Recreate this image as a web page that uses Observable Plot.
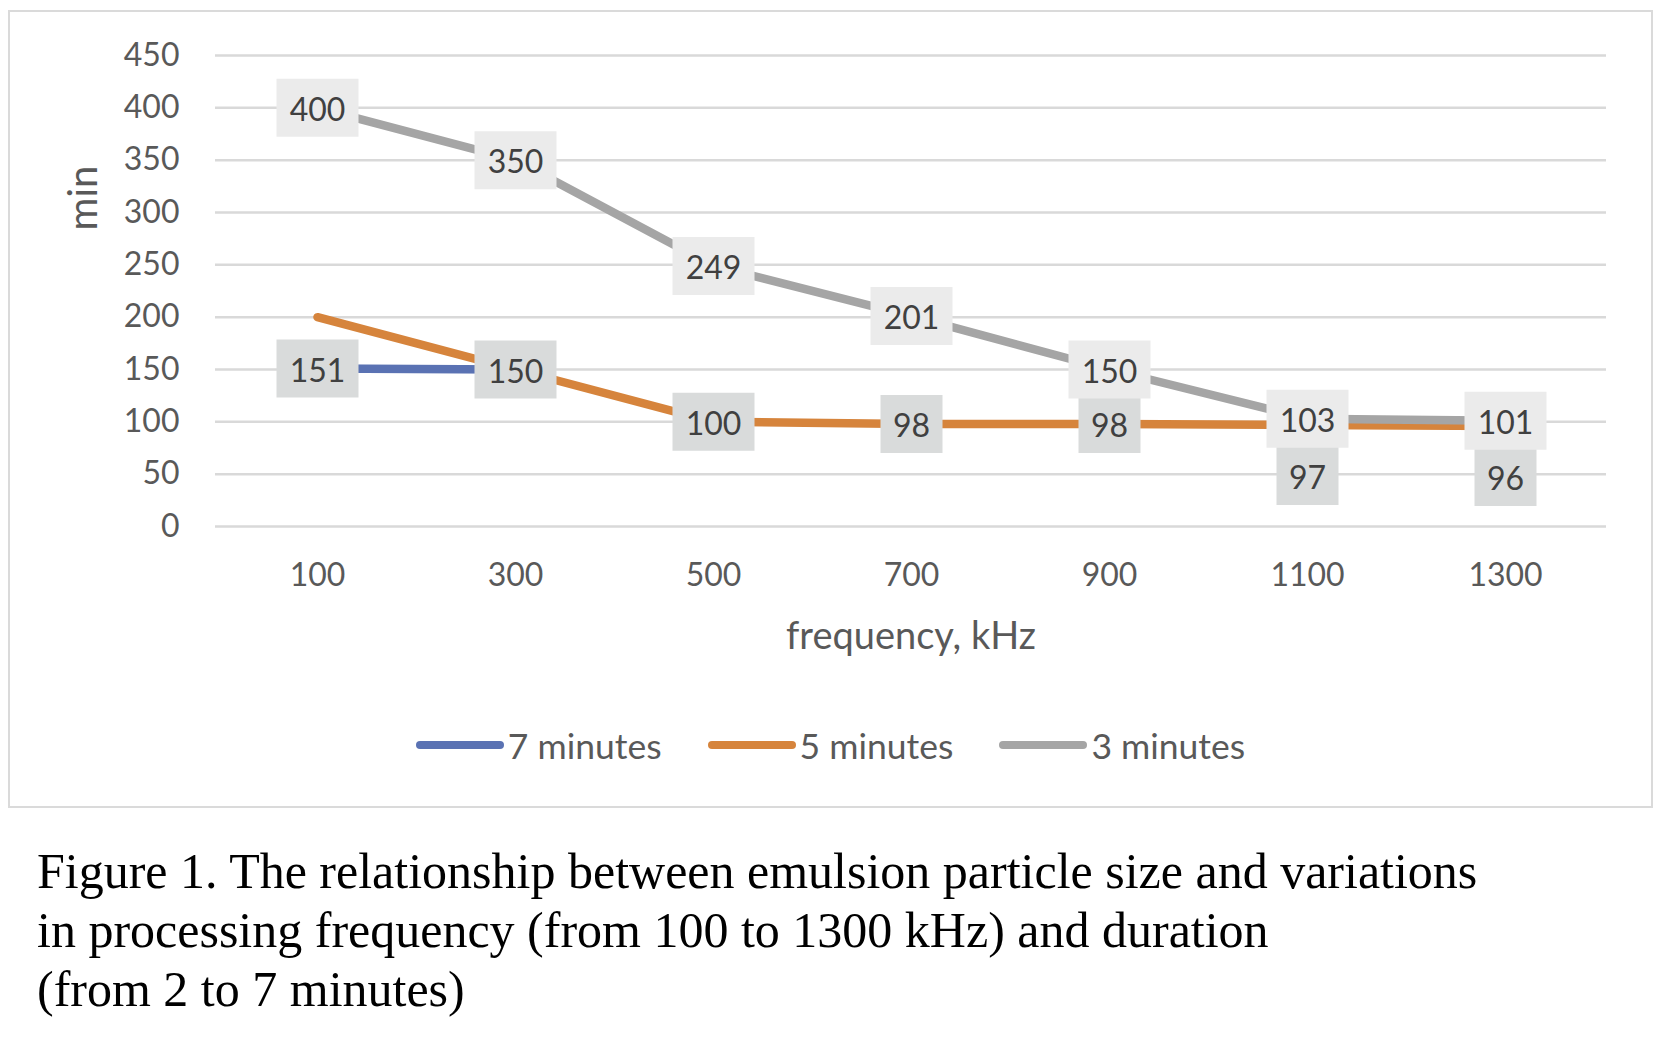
<!DOCTYPE html>
<html><head><meta charset="utf-8">
<script src="https://cdn.jsdelivr.net/npm/d3@7"></script>
<script src="https://cdn.jsdelivr.net/npm/@observablehq/plot@0.6"></script>
<style>
html,body{margin:0;padding:0;background:#fff;overflow:hidden;}
body{width:1663px;height:1038px;position:relative;font-family:Lato,sans-serif;}
#frame{position:absolute;left:8px;top:10px;width:1645px;height:798px;border:2.5px solid #dadada;box-sizing:border-box;}
#plot{position:absolute;left:0;top:0;}
#legend{position:absolute;left:8px;width:1645px;top:725px;height:40px;display:flex;justify-content:center;align-items:center;font-size:35.5px;color:#595959;}
.item{display:flex;align-items:center;margin:0 23px;}
.sw{width:88px;height:8.5px;border-radius:4.5px;margin-right:4px;}
#caption{position:absolute;left:37px;top:842px;font-family:"Liberation Serif","Times New Roman",serif;font-size:50px;line-height:59px;color:#000;white-space:nowrap;}
</style></head>
<body>
<div id="frame"></div>
<div id="plot"></div>
<div id="legend"></div>
<div id="caption">Figure 1. The relationship between emulsion particle size and variations<br>in processing frequency (from 100 to 1300 kHz) and duration<br>(from 2 to 7 minutes)</div>
<script>
const freq = [100, 300, 500, 700, 900, 1100, 1300];
const seriesNames = ["7 minutes", "5 minutes", "3 minutes"];
const seriesColors = ["#5a72b3", "#d6843c", "#a5a5a5"];
const min7 = [151, 150];
const min5 = [200, 150, 100, 98, 98, 97, 96];
const min3 = [400, 350, 249, 201, 150, 103, 101];
const yTicks = [0, 50, 100, 150, 200, 250, 300, 350, 400, 450];
const xTitle = "frequency, kHz";
const yTitle = "min";

const rows = (vals) => vals.map((v, i) => ({f: freq[i], v, i}));
const r7 = rows(min7), r5 = rows(min5), r3 = rows(min3);

const boxWide = {draw(ctx) { ctx.rect(-41, -29, 82, 58); }};
const boxNarrow = {draw(ctx) { ctx.rect(-31, -29, 62, 58); }};

function labels(data, bg, dy) {
  const wide = data.filter(d => String(d.v).length >= 3);
  const narrow = data.filter(d => String(d.v).length < 3);
  return [
    Plot.dot(wide, {x: "f", y: "v", symbol: boxWide, r: 10, fill: bg, stroke: "none", dy}),
    Plot.dot(narrow, {x: "f", y: "v", symbol: boxNarrow, r: 10, fill: bg, stroke: "none", dy}),
    Plot.text(data, {x: "f", y: "v", text: d => String(d.v), fill: "#404040", fontSize: 32, dy: dy + 3})
  ];
}

const lineOpts = {x: "f", y: "v", strokeWidth: 8.5, strokeLinecap: "round", strokeLinejoin: "round"};

const chart = Plot.plot({
  width: 1663,
  height: 680,
  marginLeft: 215,
  marginRight: 57,
  marginTop: 55,
  marginBottom: 154,
  style: {fontFamily: "Lato, sans-serif", fontSize: "32px", color: "#595959", background: "transparent", overflow: "visible"},
  x: {type: "point", domain: freq, padding: 0.5, tickSize: 0, tickPadding: 37, tickFormat: d => String(d), label: null},
  y: {domain: [0, 450], ticks: yTicks, tickSize: 0, tickPadding: 36, label: null},
  marks: [
    Plot.ruleY(yTicks, {stroke: "#d9d9d9", strokeWidth: 2.5}),
    Plot.line(r7, {...lineOpts, stroke: seriesColors[0]}),
    Plot.line(r5, {...lineOpts, stroke: seriesColors[1]}),
    Plot.line(r3, {...lineOpts, stroke: seriesColors[2]}),
    ...labels(r7, "#d9dbdb", 0),
    ...labels(r5.filter(d => d.i >= 2 && d.i < 5), "#d9dbdb", 0),
    ...labels(r5.filter(d => d.i >= 5), "#d9dbdb", 51),
    ...labels(r3, "#ebebeb", 0),
    Plot.text([xTitle], {frameAnchor: "bottom", lineAnchor: "middle", textAnchor: "middle", dy: 110, fontSize: 38, fill: "#595959"}),
    Plot.text([yTitle], {frameAnchor: "left", lineAnchor: "middle", textAnchor: "middle", rotate: -90, dx: -131, dy: -93, fontSize: 40, fill: "#595959"})
  ]
});
document.getElementById("plot").appendChild(chart);

const legend = document.getElementById("legend");
seriesNames.forEach((name, i) => {
  const item = document.createElement("div");
  item.className = "item";
  const sw = document.createElement("div");
  sw.className = "sw";
  sw.style.background = seriesColors[i];
  const t = document.createElement("span");
  t.textContent = name;
  item.appendChild(sw); item.appendChild(t);
  legend.appendChild(item);
});
</script>
</body></html>
